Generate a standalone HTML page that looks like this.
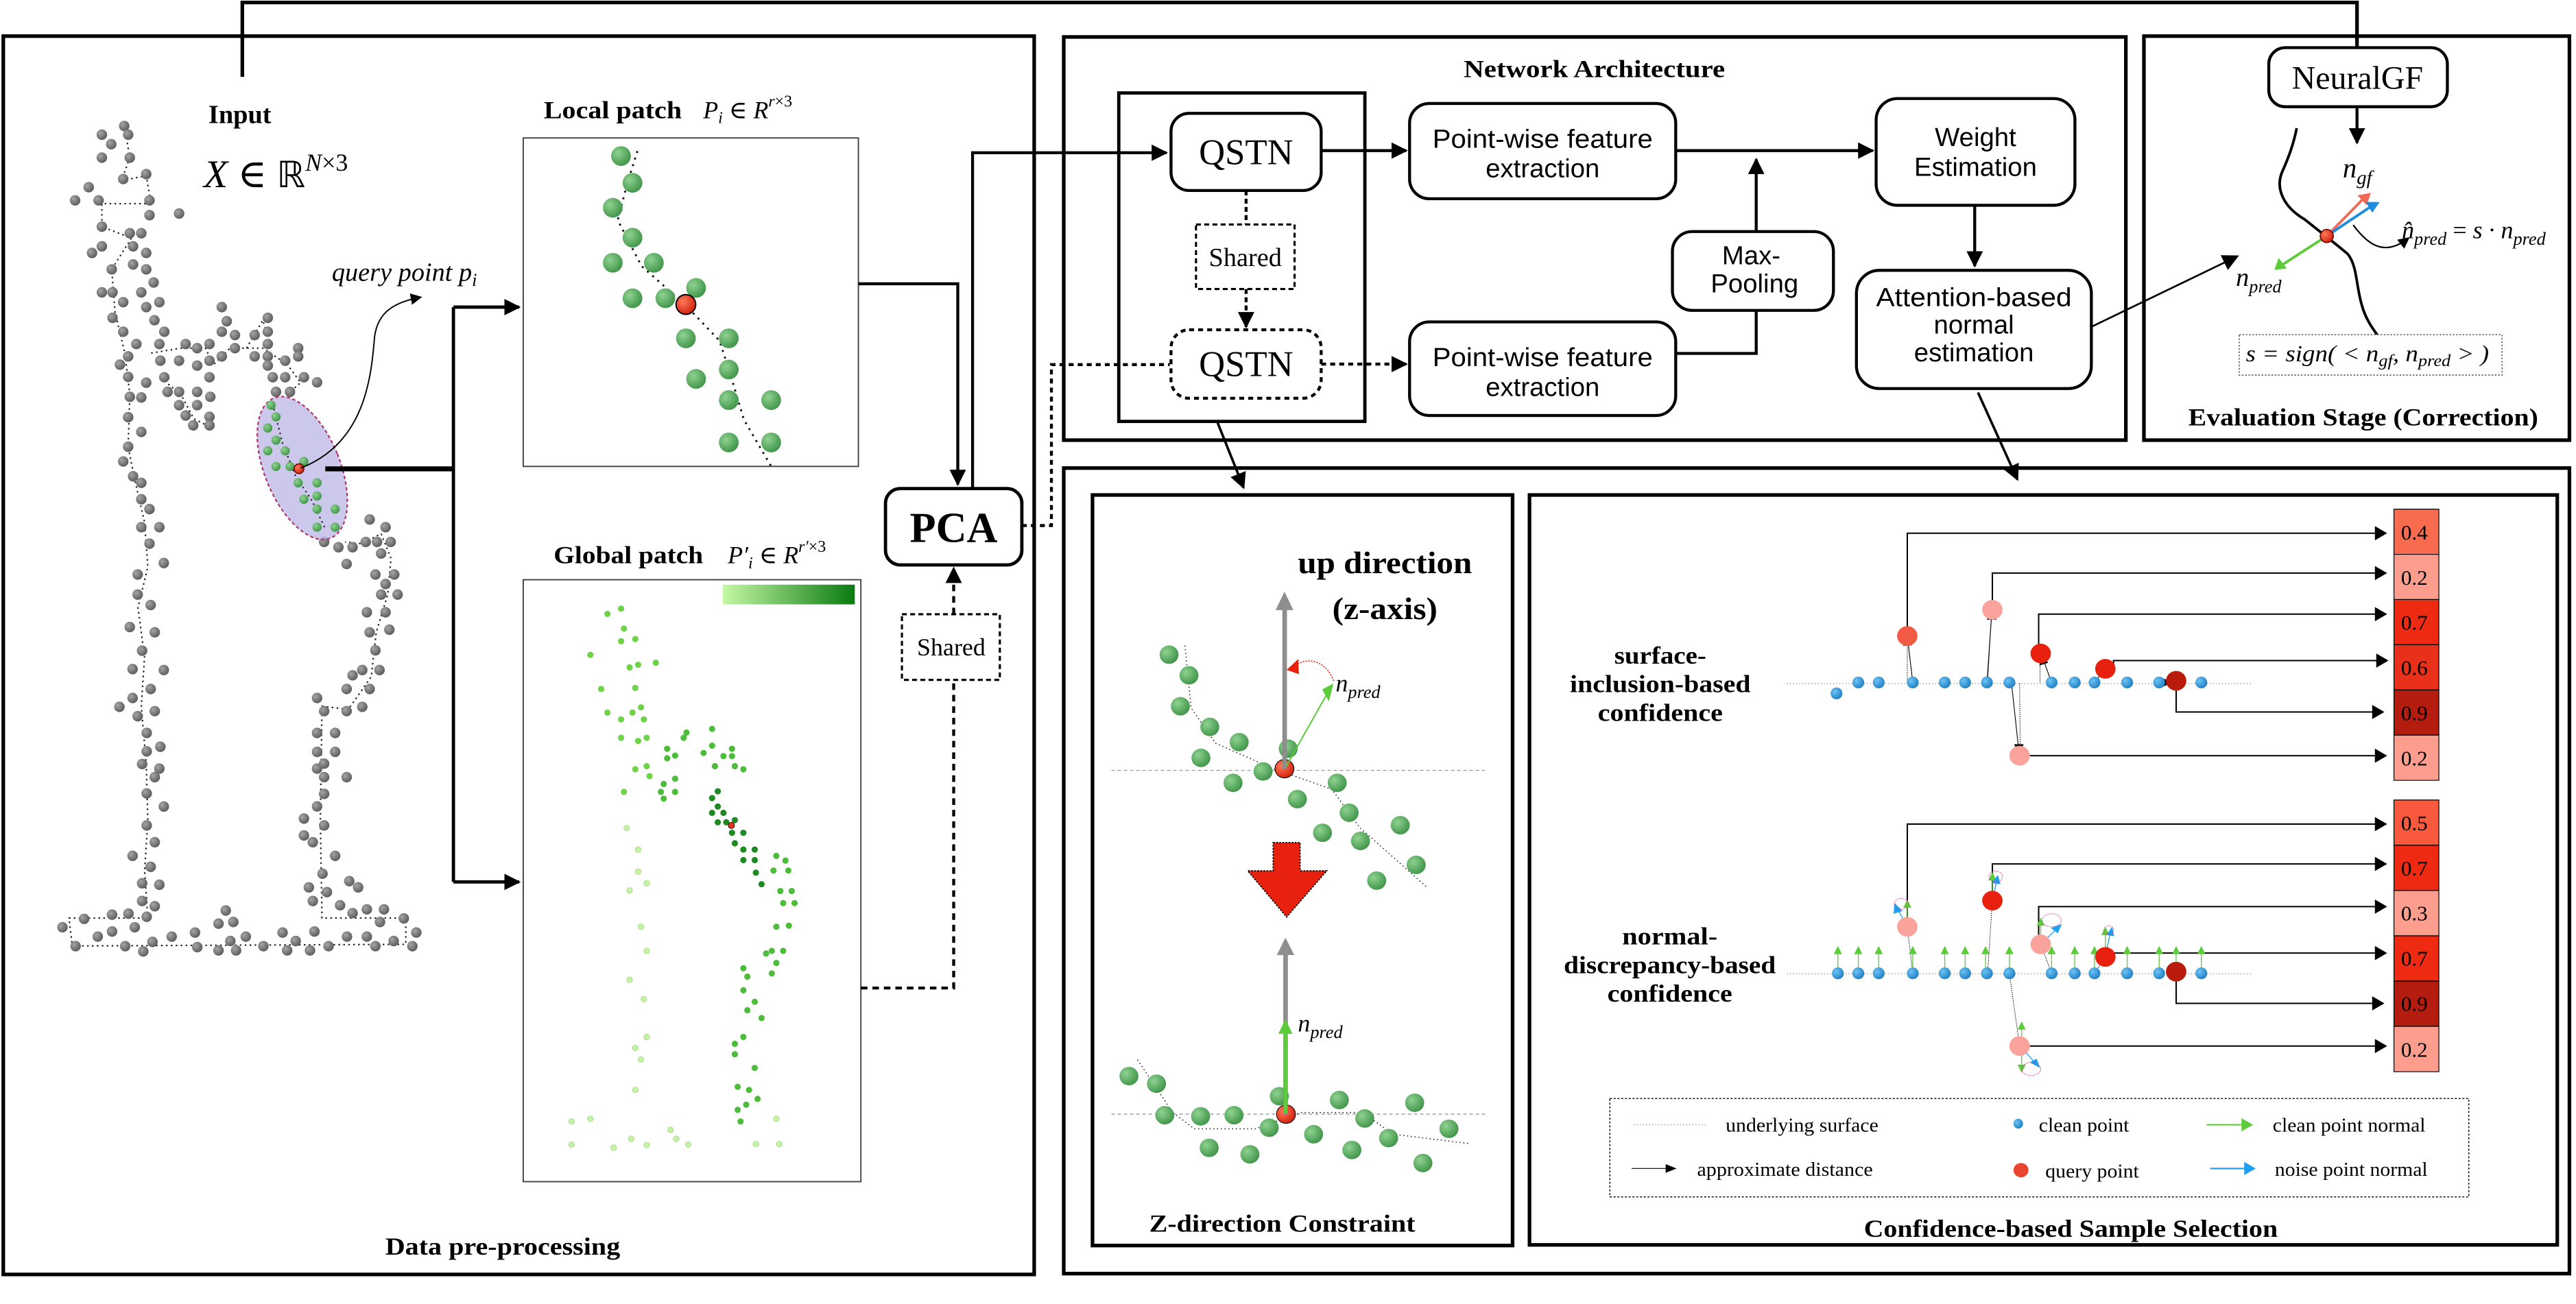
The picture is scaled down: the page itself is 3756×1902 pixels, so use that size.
<!DOCTYPE html>
<html><head><meta charset="utf-8"><style>
html,body{margin:0;padding:0;background:#fff;}
svg{display:block;}
text{font-family:"Liberation Serif","DejaVu Serif",serif;}
.ss, .ss text{font-family:"Liberation Sans",Arial,sans-serif;}
.dj, .dj text{font-family:"Liberation Serif","DejaVu Serif",serif;}
</style></head><body>
<svg xmlns="http://www.w3.org/2000/svg" width="3756" height="1902" viewBox="0 0 1568 794" preserveAspectRatio="none">
<defs>
<radialGradient id="gg" cx="35%" cy="35%" r="70%"><stop offset="0" stop-color="#a5a5a5"/><stop offset="1" stop-color="#5a5a5a"/></radialGradient>
<radialGradient id="gr" cx="35%" cy="35%" r="70%"><stop offset="0" stop-color="#8fd291"/><stop offset="1" stop-color="#3f9448"/></radialGradient>
<radialGradient id="rd" cx="35%" cy="35%" r="70%"><stop offset="0" stop-color="#ff7a5a"/><stop offset="1" stop-color="#d0200c"/></radialGradient>
<radialGradient id="bl" cx="35%" cy="35%" r="70%"><stop offset="0" stop-color="#6cc4f4"/><stop offset="1" stop-color="#1f7fc4"/></radialGradient>
<linearGradient id="gbar"><stop offset="0" stop-color="#c4f7a4"/><stop offset="1" stop-color="#0a7a10"/></linearGradient>
<marker id="ah" markerWidth="10" markerHeight="10" refX="9" refY="5" orient="auto" markerUnits="userSpaceOnUse"><path d="M0,0 L10,5 L0,10 z" fill="#000"/></marker>
<marker id="ahs" markerWidth="7" markerHeight="7" refX="6" refY="3.5" orient="auto" markerUnits="userSpaceOnUse"><path d="M0,0 L7,3.5 L0,7 z" fill="#000"/></marker>
</defs>
<rect width="1568" height="794" fill="#fff"/>

<!-- ================= frames ================= -->
<g fill="none" stroke="#000" stroke-width="2.2">
<rect x="2" y="22" width="627.5" height="754"/>
<rect x="647.5" y="22.5" width="646.5" height="245.5"/>
<rect x="1305" y="22" width="259" height="246"/>
<rect x="647.5" y="285" width="916.5" height="490.5"/>
<rect x="665" y="301.4" width="255.7" height="457"/>
<rect x="931" y="301.4" width="625.6" height="456.6"/>
<path d="M147.5,46.8 V1.5 H1434.7 V29"/>
</g>

<!-- ================= Data pre-processing ================= -->
<text x="146" y="75" font-size="16" font-weight="bold" text-anchor="middle">Input</text>
<text x="124" y="114" font-size="24"><tspan font-style="italic">X</tspan><tspan> ∈ </tspan><tspan font-family="DejaVu Sans" font-size="22">ℝ</tspan><tspan font-style="italic" font-size="15" dy="-10">N</tspan><tspan font-size="15">×3</tspan></text>
<text x="331" y="72" font-size="15" font-weight="bold" textLength="84" lengthAdjust="spacingAndGlyphs">Local patch</text>
<text x="428" y="72" font-size="15"><tspan font-style="italic">P</tspan><tspan font-style="italic" font-size="10" dy="3">i</tspan><tspan dy="-3"> ∈ </tspan><tspan font-style="italic">R</tspan><tspan font-size="10" dy="-7" font-style="italic">r</tspan><tspan font-size="10">×3</tspan></text>
<text x="337" y="343" font-size="15" font-weight="bold" textLength="91" lengthAdjust="spacingAndGlyphs">Global patch</text>
<text x="443" y="343" font-size="15"><tspan font-style="italic">P′</tspan><tspan font-style="italic" font-size="10" dy="3">i</tspan><tspan dy="-3"> ∈ </tspan><tspan font-style="italic">R</tspan><tspan font-size="10" dy="-7" font-style="italic">r′</tspan><tspan font-size="10">×3</tspan></text>
<text x="306" y="764" font-size="15" font-weight="bold" text-anchor="middle" textLength="143" lengthAdjust="spacingAndGlyphs">Data pre-processing</text>
<text x="202" y="171" font-size="16" font-style="italic">query point p<tspan font-size="11" dy="3">i</tspan></text>

<!-- point cloud outline -->
<g fill="none" stroke="#222" stroke-width="0.9" stroke-dasharray="1 2">
<path d="M76,78 L79,96 L74,110 L89,107 L92,124 L62,124 L62,138 L80,145 L68,164 L70,190 L76,215 L79,240 L78,272 L82,292 L88,318 L90,345 L84,370 L88,400 L86,430 L89,465 L90,500 L88,530 L90,559 L42,559 L44,576 L247,575 L247,559 L196,559 L195,500 L196,430 L212,432 L226,412 L229,385 L236,362 L238,340 L232,325 L220,331 L210,330"/>
<path d="M92,215 L110,212 L125,212 L130,222 L140,212 L160,212 L175,222 L183,233 L175,240"/>
<path d="M100,232 L110,240 L118,255 L128,260"/>
<path d="M150,212 L160,195 L163,205"/>
</g>
<g fill="url(#gg)">
<circle cx="75.6" cy="76.7" r="3.2"/><circle cx="62" cy="82" r="3.2"/><circle cx="78" cy="82" r="3.2"/><circle cx="67.7" cy="87.8" r="3.2"/><circle cx="79" cy="96" r="3.2"/><circle cx="62" cy="96" r="3.2"/><circle cx="75" cy="109" r="3.2"/><circle cx="89" cy="106" r="3.2"/><circle cx="54" cy="114" r="3.2"/><circle cx="45.7" cy="122" r="3.2"/><circle cx="60" cy="122" r="3.2"/><circle cx="91" cy="122" r="3.2"/><circle cx="109" cy="130" r="3.2"/><circle cx="91" cy="131" r="3.2"/><circle cx="62" cy="138" r="3.2"/><circle cx="79" cy="142" r="3.2"/><circle cx="86" cy="142" r="3.2"/><circle cx="56" cy="154" r="3.2"/><circle cx="62" cy="150" r="3.2"/><circle cx="81" cy="150" r="3.2"/><circle cx="89" cy="154" r="3.2"/><circle cx="68" cy="164" r="3.2"/><circle cx="81" cy="161" r="3.2"/><circle cx="89" cy="164" r="3.2"/><circle cx="93.5" cy="172" r="3.2"/><circle cx="62" cy="178" r="3.2"/><circle cx="68.5" cy="178" r="3.2"/><circle cx="75" cy="184" r="3.2"/><circle cx="86" cy="178" r="3.2"/><circle cx="97" cy="184" r="3.2"/><circle cx="89" cy="187" r="3.2"/><circle cx="68.5" cy="193.5" r="3.2"/><circle cx="94" cy="195" r="3.2"/><circle cx="75" cy="202" r="3.2"/><circle cx="100" cy="202" r="3.2"/><circle cx="83" cy="209.5" r="3.2"/><circle cx="97" cy="209.5" r="3.2"/><circle cx="78" cy="217" r="3.2"/><circle cx="73" cy="222" r="3.2"/><circle cx="97.6" cy="219.6" r="3.2"/><circle cx="78" cy="229.5" r="3.2"/><circle cx="89" cy="233" r="3.2"/><circle cx="79" cy="241.6" r="3.2"/><circle cx="86" cy="242" r="3.2"/><circle cx="78" cy="254" r="3.2"/><circle cx="86" cy="263" r="3.2"/><circle cx="78" cy="272" r="3.2"/><circle cx="75" cy="281" r="3.2"/><circle cx="81" cy="290" r="3.2"/><circle cx="86" cy="294" r="3.2"/><circle cx="86" cy="304" r="3.2"/><circle cx="91" cy="310" r="3.2"/><circle cx="86" cy="321" r="3.2"/><circle cx="97" cy="321" r="3.2"/><circle cx="91" cy="331" r="3.2"/><circle cx="99.7" cy="342.8" r="3.2"/><circle cx="83.8" cy="349.8" r="3.2"/><circle cx="83.8" cy="362" r="3.2"/><circle cx="91.7" cy="368.4" r="3.2"/><circle cx="79" cy="381.8" r="3.2"/><circle cx="94.2" cy="385" r="3.2"/><circle cx="86.5" cy="396.2" r="3.2"/><circle cx="80.7" cy="407.4" r="3.2"/><circle cx="99.7" cy="408" r="3.2"/><circle cx="91.7" cy="419.5" r="3.2"/><circle cx="80.7" cy="425" r="3.2"/><circle cx="72.7" cy="430.4" r="3.2"/><circle cx="83.8" cy="436.1" r="3.2"/><circle cx="94.2" cy="433" r="3.2"/><circle cx="89.3" cy="446.3" r="3.2"/><circle cx="89.3" cy="457.5" r="3.2"/><circle cx="97.6" cy="454.7" r="3.2"/><circle cx="86.5" cy="465.2" r="3.2"/><circle cx="97" cy="468" r="3.2"/><circle cx="94.2" cy="473.2" r="3.2"/><circle cx="89.3" cy="483.1" r="3.2"/><circle cx="99.7" cy="491.1" r="3.2"/><circle cx="89.3" cy="502.6" r="3.2"/><circle cx="94.2" cy="512.8" r="3.2"/><circle cx="80.7" cy="521.1" r="3.2"/><circle cx="91.7" cy="527.8" r="3.2"/><circle cx="86.5" cy="537.8" r="3.2"/><circle cx="97" cy="538.7" r="3.2"/><circle cx="86.5" cy="548.6" r="3.2"/><circle cx="94.2" cy="551.8" r="3.2"/><circle cx="89.3" cy="558.2" r="3.2"/><circle cx="78.2" cy="556.3" r="3.2"/><circle cx="68.2" cy="556.9" r="3.2"/><circle cx="51.2" cy="559.5" r="3.2"/><circle cx="38" cy="564.6" r="3.2"/><circle cx="59.5" cy="570.3" r="3.2"/><circle cx="68.2" cy="567.2" r="3.2"/><circle cx="82" cy="564.6" r="3.2"/><circle cx="46" cy="576.1" r="3.2"/><circle cx="76.2" cy="576.1" r="3.2"/><circle cx="87.2" cy="579.3" r="3.2"/><circle cx="92.8" cy="573.5" r="3.2"/><circle cx="104.5" cy="570.3" r="3.2"/><circle cx="118.7" cy="567.8" r="3.2"/><circle cx="120.1" cy="576.7" r="3.2"/><circle cx="133" cy="562.4" r="3.2"/><circle cx="137.4" cy="554.4" r="3.2"/><circle cx="142" cy="561.4" r="3.2"/><circle cx="140.2" cy="573" r="3.2"/><circle cx="133" cy="578.7" r="3.2"/><circle cx="143.7" cy="578.7" r="3.2"/><circle cx="149.6" cy="570.3" r="3.2"/><circle cx="160.3" cy="576.1" r="3.2"/><circle cx="172" cy="567.8" r="3.2"/><circle cx="174.8" cy="578.7" r="3.2"/><circle cx="180" cy="573" r="3.2"/><circle cx="188.7" cy="578.7" r="3.2"/><circle cx="191.4" cy="567.2" r="3.2"/><circle cx="200" cy="576.1" r="3.2"/><circle cx="211.2" cy="570.3" r="3.2"/><circle cx="223.3" cy="570.3" r="3.2"/><circle cx="228.5" cy="576.1" r="3.2"/><circle cx="239.6" cy="573" r="3.2"/><circle cx="251" cy="576.1" r="3.2"/><circle cx="253.4" cy="567.8" r="3.2"/><circle cx="231.3" cy="561.4" r="3.2"/><circle cx="245.8" cy="559.2" r="3.2"/><circle cx="233.7" cy="553.7" r="3.2"/><circle cx="223.3" cy="553.7" r="3.2"/><circle cx="214.6" cy="556" r="3.2"/><circle cx="207" cy="551.2" r="3.2"/><circle cx="190.4" cy="548.6" r="3.2"/><circle cx="199" cy="543.2" r="3.2"/><circle cx="188" cy="540.3" r="3.2"/><circle cx="212.6" cy="536.5" r="3.2"/><circle cx="218" cy="540.3" r="3.2"/><circle cx="196.3" cy="532" r="3.2"/><circle cx="204" cy="521.1" r="3.2"/><circle cx="190.4" cy="512.8" r="3.2"/><circle cx="185" cy="508.7" r="3.2"/><circle cx="197.3" cy="502.6" r="3.2"/><circle cx="185" cy="498.4" r="3.2"/><circle cx="193" cy="491" r="3.2"/><circle cx="197.3" cy="483.4" r="3.2"/><circle cx="197.3" cy="473.2" r="3.2"/><circle cx="211" cy="473.2" r="3.2"/><circle cx="193" cy="468" r="3.2"/><circle cx="197.3" cy="465" r="3.2"/><circle cx="193" cy="457.8" r="3.2"/><circle cx="204" cy="457.8" r="3.2"/><circle cx="193" cy="446.3" r="3.2"/><circle cx="204" cy="446.3" r="3.2"/><circle cx="197.3" cy="433" r="3.2"/><circle cx="211" cy="433" r="3.2"/><circle cx="220.5" cy="430.4" r="3.2"/><circle cx="193" cy="425" r="3.2"/><circle cx="211" cy="419.5" r="3.2"/><circle cx="225" cy="419.5" r="3.2"/><circle cx="214.6" cy="411.2" r="3.2"/><circle cx="220.5" cy="408" r="3.2"/><circle cx="231" cy="408" r="3.2"/><circle cx="228.5" cy="396" r="3.2"/><circle cx="225" cy="385" r="3.2"/><circle cx="237" cy="383.4" r="3.2"/><circle cx="223.3" cy="372.8" r="3.2"/><circle cx="234.7" cy="372.8" r="3.2"/><circle cx="232" cy="362" r="3.2"/><circle cx="242" cy="362" r="3.2"/><circle cx="234.7" cy="355.6" r="3.2"/><circle cx="228.5" cy="349.8" r="3.2"/><circle cx="240" cy="349.8" r="3.2"/><circle cx="211" cy="343.4" r="3.2"/><circle cx="232" cy="337" r="3.2"/><circle cx="197.3" cy="330" r="3.2"/><circle cx="206" cy="333.2" r="3.2"/><circle cx="214.6" cy="333.2" r="3.2"/><circle cx="222.6" cy="330" r="3.2"/><circle cx="229.5" cy="330" r="3.2"/><circle cx="237.8" cy="330" r="3.2"/><circle cx="225" cy="316.3" r="3.2"/><circle cx="234.7" cy="321" r="3.2"/>
<circle cx="135" cy="187" r="3.2"/><circle cx="138" cy="195.6" r="3.2"/><circle cx="135" cy="202" r="3.2"/><circle cx="143" cy="204" r="3.2"/><circle cx="163" cy="193.5" r="3.2"/><circle cx="163" cy="202" r="3.2"/><circle cx="155" cy="204" r="3.2"/><circle cx="163" cy="209.5" r="3.2"/><circle cx="113" cy="209.5" r="3.2"/><circle cx="120" cy="212" r="3.2"/><circle cx="127.5" cy="209.5" r="3.2"/><circle cx="143" cy="212" r="3.2"/><circle cx="135" cy="217" r="3.2"/><circle cx="127.5" cy="219.6" r="3.2"/><circle cx="109" cy="219.6" r="3.2"/><circle cx="120" cy="222.6" r="3.2"/><circle cx="155" cy="217" r="3.2"/><circle cx="163" cy="217" r="3.2"/><circle cx="181.5" cy="212" r="3.2"/><circle cx="181.5" cy="217" r="3.2"/><circle cx="173.6" cy="219.6" r="3.2"/><circle cx="163" cy="222.6" r="3.2"/><circle cx="100" cy="229.7" r="3.2"/><circle cx="127.5" cy="229.7" r="3.2"/><circle cx="166" cy="229.7" r="3.2"/><circle cx="173.6" cy="229.7" r="3.2"/><circle cx="185" cy="229.7" r="3.2"/><circle cx="193" cy="232.8" r="3.2"/><circle cx="102" cy="238.6" r="3.2"/><circle cx="109" cy="238.6" r="3.2"/><circle cx="120" cy="238.6" r="3.2"/><circle cx="168" cy="238.6" r="3.2"/><circle cx="176.5" cy="238.6" r="3.2"/><circle cx="128" cy="241.6" r="3.2"/><circle cx="109" cy="246.7" r="3.2"/><circle cx="120" cy="246.7" r="3.2"/><circle cx="113" cy="253" r="3.2"/><circle cx="127.5" cy="253.8" r="3.2"/><circle cx="117.6" cy="259" r="3.2"/><circle cx="127.5" cy="259" r="3.2"/>
</g>
<!-- query ellipse -->
<ellipse cx="184" cy="285" rx="23" ry="46" transform="rotate(-22 184 285)" fill="#b9b5e6" fill-opacity="0.75" stroke="#b0306a" stroke-width="0.9" stroke-dasharray="2 1.5"/>
<path d="M166,246 L172,270 L180,290 L190,305 L198,322" fill="none" stroke="#222" stroke-width="0.9" stroke-dasharray="1 2"/>
<g fill="url(#gr)">
<circle cx="165" cy="246.7" r="2.8"/><circle cx="168" cy="253.8" r="2.8"/><circle cx="163" cy="260.6" r="2.8"/><circle cx="168" cy="268" r="2.8"/><circle cx="163" cy="274.5" r="2.8"/><circle cx="173.6" cy="274.5" r="2.8"/><circle cx="185" cy="281" r="2.8"/><circle cx="168" cy="284" r="2.8"/><circle cx="176.5" cy="284" r="2.8"/><circle cx="181.5" cy="294" r="2.8"/><circle cx="193" cy="294" r="2.8"/><circle cx="193" cy="302" r="2.8"/><circle cx="185" cy="304" r="2.8"/><circle cx="193" cy="310" r="2.8"/><circle cx="204" cy="310" r="2.8"/><circle cx="193" cy="321" r="2.8"/><circle cx="204" cy="321" r="2.8"/>
</g>
<circle cx="182" cy="285.4" r="3" fill="url(#rd)" stroke="#600" stroke-width="0.6"/>
<path d="M183,285 C222,270 226,230 228,205 C230,190 240,184 256,181" fill="none" stroke="#000" stroke-width="0.8" marker-end="url(#ahs)"/>
<!-- patch arrows -->
<g fill="none" stroke="#000" stroke-width="2">
<path d="M198,285.5 H276.5" stroke-width="3"/>
<path d="M276,187 V537"/>
<path d="M276,187 H316" marker-end="url(#ah)"/>
<path d="M276,537 H316" marker-end="url(#ah)"/>
</g>

<!-- local patch -->
<rect x="318.5" y="84" width="204" height="200" fill="#fff" stroke="#444" stroke-width="0.8"/>
<path d="M388,92 L382,111 L376,134 L390.5,162 L417.5,186 L438,207.5 L444.5,227.7 L452.8,255.5 L469.4,284" fill="none" stroke="#111" stroke-width="1.2" stroke-dasharray="1.2 3"/>
<g fill="url(#gr)">
<circle cx="378" cy="95" r="6"/><circle cx="385" cy="111.3" r="6"/><circle cx="373" cy="126.5" r="6"/><circle cx="385" cy="144.7" r="6"/><circle cx="373" cy="160" r="6"/><circle cx="398" cy="160" r="6"/><circle cx="423.7" cy="175.3" r="6"/><circle cx="385" cy="181.6" r="6"/><circle cx="405" cy="181.6" r="6"/><circle cx="417.5" cy="206" r="6"/><circle cx="443.6" cy="206" r="6"/><circle cx="443.6" cy="225" r="6"/><circle cx="423.7" cy="230.7" r="6"/><circle cx="443.6" cy="243.6" r="6"/><circle cx="469.4" cy="243.6" r="6"/><circle cx="443.6" cy="269.4" r="6"/><circle cx="469.4" cy="269.4" r="6"/>
</g>
<circle cx="417.5" cy="185.4" r="6" fill="url(#rd)" stroke="#000" stroke-width="0.8"/>

<!-- global patch -->
<rect x="318.5" y="353" width="205.5" height="366.5" fill="#fff" stroke="#444" stroke-width="0.8"/>
<rect x="440" y="356" width="80.3" height="12" fill="url(#gbar)"/>
<g transform="matrix(0.3462,0,0,0.3196,0,292.3)">
<g fill="#6fd348">
<ellipse cx="1068" cy="255" rx="5.5" ry="6"/><ellipse cx="1092" cy="245" rx="5.5" ry="6"/><ellipse cx="1097" cy="283" rx="5.5" ry="6"/><ellipse cx="1092" cy="307" rx="5.5" ry="6"/><ellipse cx="1117" cy="303" rx="5.5" ry="6"/><ellipse cx="1038" cy="333" rx="5.5" ry="6"/><ellipse cx="1107" cy="357" rx="5.5" ry="6"/><ellipse cx="1122" cy="352" rx="5.5" ry="6"/><ellipse cx="1153" cy="348" rx="5.5" ry="6"/><ellipse cx="1057" cy="398" rx="5.5" ry="6"/><ellipse cx="1117" cy="396" rx="5.5" ry="6"/><ellipse cx="1068" cy="443" rx="5.5" ry="6"/><ellipse cx="1092" cy="456" rx="5.5" ry="6"/><ellipse cx="1112" cy="443" rx="5.5" ry="6"/><ellipse cx="1127" cy="433" rx="5.5" ry="6"/><ellipse cx="1132" cy="456" rx="5.5" ry="6"/><ellipse cx="1092" cy="491" rx="5.5" ry="6"/><ellipse cx="1122" cy="497" rx="5.5" ry="6"/><ellipse cx="1137" cy="491" rx="5.5" ry="6"/><ellipse cx="1117" cy="551" rx="5.5" ry="6"/><ellipse cx="1137" cy="545" rx="5.5" ry="6"/><ellipse cx="1142" cy="564" rx="5.5" ry="6"/><ellipse cx="1097" cy="594" rx="5.5" ry="6"/>
</g>
<g fill="#4cbc3a">
<ellipse cx="1173" cy="512" rx="5.5" ry="6"/><ellipse cx="1173" cy="530" rx="5.5" ry="6"/><ellipse cx="1187" cy="525" rx="5.5" ry="6"/><ellipse cx="1207" cy="481" rx="5.5" ry="6"/><ellipse cx="1202" cy="491" rx="5.5" ry="6"/><ellipse cx="1167" cy="579" rx="5.5" ry="6"/><ellipse cx="1187" cy="569" rx="5.5" ry="6"/><ellipse cx="1162" cy="594" rx="5.5" ry="6"/><ellipse cx="1187" cy="594" rx="5.5" ry="6"/><ellipse cx="1167" cy="607" rx="5.5" ry="6"/><ellipse cx="1252" cy="474" rx="5.5" ry="6"/><ellipse cx="1252" cy="506" rx="5.5" ry="6"/><ellipse cx="1237" cy="520" rx="5.5" ry="6"/><ellipse cx="1257" cy="545" rx="5.5" ry="6"/><ellipse cx="1272" cy="526" rx="5.5" ry="6"/><ellipse cx="1287" cy="512" rx="5.5" ry="6"/><ellipse cx="1287" cy="526" rx="5.5" ry="6"/><ellipse cx="1292" cy="545" rx="5.5" ry="6"/><ellipse cx="1307" cy="551" rx="5.5" ry="6"/>
<ellipse cx="1365" cy="716" rx="5.5" ry="6"/><ellipse cx="1381" cy="725" rx="5.5" ry="6"/><ellipse cx="1360" cy="744" rx="5.5" ry="6"/><ellipse cx="1386" cy="744" rx="5.5" ry="6"/><ellipse cx="1372" cy="783" rx="5.5" ry="6"/><ellipse cx="1392" cy="783" rx="5.5" ry="6"/><ellipse cx="1377" cy="806" rx="5.5" ry="6"/><ellipse cx="1397" cy="806" rx="5.5" ry="6"/><ellipse cx="1365" cy="851" rx="5.5" ry="6"/><ellipse cx="1387" cy="849" rx="5.5" ry="6"/><ellipse cx="1347" cy="902" rx="5.5" ry="6"/><ellipse cx="1357" cy="897" rx="5.5" ry="6"/><ellipse cx="1377" cy="897" rx="5.5" ry="6"/><ellipse cx="1365" cy="920" rx="5.5" ry="6"/><ellipse cx="1357" cy="940" rx="5.5" ry="6"/><ellipse cx="1307" cy="930" rx="5.5" ry="6"/><ellipse cx="1314" cy="946" rx="5.5" ry="6"/><ellipse cx="1307" cy="972" rx="5.5" ry="6"/><ellipse cx="1327" cy="994" rx="5.5" ry="6"/><ellipse cx="1314" cy="1010" rx="5.5" ry="6"/><ellipse cx="1339" cy="1025" rx="5.5" ry="6"/><ellipse cx="1307" cy="1061" rx="5.5" ry="6"/><ellipse cx="1292" cy="1074" rx="5.5" ry="6"/><ellipse cx="1292" cy="1094" rx="5.5" ry="6"/><ellipse cx="1327" cy="1120" rx="5.5" ry="6"/><ellipse cx="1297" cy="1156" rx="5.5" ry="6"/><ellipse cx="1317" cy="1162" rx="5.5" ry="6"/><ellipse cx="1332" cy="1179" rx="5.5" ry="6"/><ellipse cx="1312" cy="1190" rx="5.5" ry="6"/><ellipse cx="1297" cy="1200" rx="5.5" ry="6"/><ellipse cx="1302" cy="1222" rx="5.5" ry="6"/>
</g>
<g fill="#1f8a24">
<ellipse cx="1252" cy="606" rx="5.5" ry="6"/><ellipse cx="1262" cy="593" rx="5.5" ry="6"/><ellipse cx="1262" cy="622" rx="5.5" ry="6"/><ellipse cx="1252" cy="634" rx="5.5" ry="6"/><ellipse cx="1272" cy="634" rx="5.5" ry="6"/><ellipse cx="1262" cy="652" rx="5.5" ry="6"/><ellipse cx="1277" cy="652" rx="5.5" ry="6"/><ellipse cx="1292" cy="648" rx="5.5" ry="6"/><ellipse cx="1287" cy="672" rx="5.5" ry="6"/><ellipse cx="1307" cy="672" rx="5.5" ry="6"/><ellipse cx="1292" cy="692" rx="5.5" ry="6"/><ellipse cx="1307" cy="704" rx="5.5" ry="6"/><ellipse cx="1327" cy="704" rx="5.5" ry="6"/><ellipse cx="1307" cy="724" rx="5.5" ry="6"/><ellipse cx="1327" cy="724" rx="5.5" ry="6"/><ellipse cx="1329" cy="748" rx="5.5" ry="6"/><ellipse cx="1339" cy="770" rx="5.5" ry="6"/>
</g>
<g fill="#c6f2a8" stroke="#9fd980" stroke-width="1">
<ellipse cx="1102" cy="663" rx="5" ry="5.5"/><ellipse cx="1122" cy="704" rx="5" ry="5.5"/><ellipse cx="1122" cy="746" rx="5" ry="5.5"/><ellipse cx="1137" cy="768" rx="5" ry="5.5"/><ellipse cx="1107" cy="782" rx="5" ry="5.5"/><ellipse cx="1127" cy="851" rx="5" ry="5.5"/><ellipse cx="1137" cy="897" rx="5" ry="5.5"/><ellipse cx="1107" cy="952" rx="5" ry="5.5"/><ellipse cx="1132" cy="989" rx="5" ry="5.5"/><ellipse cx="1137" cy="1061" rx="5" ry="5.5"/><ellipse cx="1117" cy="1082" rx="5" ry="5.5"/><ellipse cx="1127" cy="1104" rx="5" ry="5.5"/><ellipse cx="1117" cy="1162" rx="5" ry="5.5"/><ellipse cx="1005" cy="1222" rx="5" ry="5.5"/><ellipse cx="1038" cy="1217" rx="5" ry="5.5"/><ellipse cx="1005" cy="1266" rx="5" ry="5.5"/><ellipse cx="1079" cy="1272" rx="5" ry="5.5"/><ellipse cx="1110" cy="1255" rx="5" ry="5.5"/><ellipse cx="1137" cy="1267" rx="5" ry="5.5"/><ellipse cx="1179" cy="1238" rx="5" ry="5.5"/><ellipse cx="1189" cy="1255" rx="5" ry="5.5"/><ellipse cx="1210" cy="1266" rx="5" ry="5.5"/><ellipse cx="1365" cy="1217" rx="5" ry="5.5"/><ellipse cx="1329" cy="1265" rx="5" ry="5.5"/><ellipse cx="1370" cy="1265" rx="5" ry="5.5"/>
</g>
<ellipse cx="1286" cy="658" rx="5.5" ry="6" fill="#e8301c" stroke="#000" stroke-width="1"/>
</g>

<!-- PCA + connectors -->
<rect x="539" y="297.5" width="83" height="46.5" rx="9" fill="#fff" stroke="#000" stroke-width="2"/>
<text x="580.5" y="330" font-size="26" font-weight="bold" text-anchor="middle">PCA</text>
<rect x="549" y="374" width="59.6" height="40" fill="#fff" stroke="#000" stroke-width="1.3" stroke-dasharray="3 2"/>
<text x="579" y="399" font-size="15" text-anchor="middle">Shared</text>
<g fill="none" stroke="#000" stroke-width="1.8">
<path d="M522.5,172.8 H583 V295" marker-end="url(#ah)"/>
<path d="M592,297.5 V93 H710" marker-end="url(#ah)"/>
<path d="M580.5,374 V346" stroke-dasharray="4 3" marker-end="url(#ah)"/>
<path d="M524,601.6 H580.5 V414" stroke-dasharray="4 3"/>
<path d="M622,320 H640 V222 H712" stroke-dasharray="3 2.5"/>
</g>

<!-- ================= Network Architecture ================= -->
<text x="970.5" y="47" font-size="15" font-weight="bold" text-anchor="middle" textLength="159" lengthAdjust="spacingAndGlyphs">Network  Architecture</text>
<rect x="681" y="56.6" width="149.8" height="200" fill="none" stroke="#000" stroke-width="2"/>
<rect x="712.8" y="69" width="91.4" height="47" rx="11" fill="#fff" stroke="#000" stroke-width="1.8"/>
<text x="758.5" y="100" font-size="22" text-anchor="middle">QSTN</text>
<rect x="728" y="136.7" width="60" height="39.3" fill="#fff" stroke="#000" stroke-width="1.3" stroke-dasharray="3 2"/>
<text x="758" y="162" font-size="16" text-anchor="middle">Shared</text>
<rect x="712.8" y="200.8" width="91.4" height="41.7" rx="11" fill="#fff" stroke="#000" stroke-width="1.8" stroke-dasharray="3 2.5"/>
<text x="758.5" y="229" font-size="22" text-anchor="middle">QSTN</text>
<g fill="#fff" stroke="#000" stroke-width="1.8">
<rect x="858" y="63" width="162" height="58" rx="12"/>
<rect x="858" y="196" width="162" height="57" rx="12"/>
<rect x="1018" y="141" width="98" height="48" rx="12"/>
<rect x="1142" y="60" width="121" height="65" rx="13"/>
<rect x="1130" y="164.6" width="143" height="72" rx="14"/>
</g>
<g font-size="16" text-anchor="middle">
<text class="ss" x="939" y="90" textLength="134" lengthAdjust="spacingAndGlyphs">Point-wise feature</text>
<text class="ss" x="939" y="108">extraction</text>
<text class="ss" x="939" y="223" textLength="134" lengthAdjust="spacingAndGlyphs">Point-wise feature</text>
<text class="ss" x="939" y="241">extraction</text>
<text class="ss" x="1066" y="161">Max-</text>
<text class="ss" x="1068" y="178">Pooling</text>
<text class="ss" x="1202.5" y="89">Weight</text>
<text class="ss" x="1202.5" y="107">Estimation</text>
<text class="ss" x="1201.5" y="186.5" textLength="119" lengthAdjust="spacingAndGlyphs">Attention-based</text>
<text class="ss" x="1201.5" y="203">normal</text>
<text class="ss" x="1201.5" y="220">estimation</text>
</g>
<g fill="none" stroke="#000" stroke-width="1.8">
<path d="M804.2,91.7 H856" marker-end="url(#ah)"/>
<path d="M1020,91.7 H1140" marker-end="url(#ah)"/>
<path d="M1069,141 V97" marker-end="url(#ah)"/>
<path d="M1020,215.2 H1069 V189"/>
<path d="M1202,125 V162" marker-end="url(#ah)"/>
<path d="M758.5,116 V136.7" stroke-dasharray="3 2"/>
<path d="M758.5,176 V199" stroke-dasharray="3 2" marker-end="url(#ah)"/>
<path d="M804.2,221.7 H856" stroke-dasharray="3 2.5" marker-end="url(#ah)"/>
<path d="M741,257 L757,297" stroke-width="1.5" marker-end="url(#ah)"/>
<path d="M1204,239 L1228,292" stroke-width="1.5" marker-end="url(#ah)"/>
<path d="M1273,199 L1362,156" stroke-width="1.1" marker-end="url(#ah)"/>
</g>

<!-- ================= Evaluation ================= -->
<rect x="1381" y="29" width="108.7" height="36" rx="10" fill="#fff" stroke="#000" stroke-width="1.8"/>
<text x="1435" y="54" font-size="20" text-anchor="middle">NeuralGF</text>
<path d="M1434.7,65.9 V87" stroke="#000" stroke-width="1.8" marker-end="url(#ah)"/>
<path d="M1398,78 C1396,88 1393,96 1389,105 C1385,115 1390,126 1402.7,133.5 C1412,141 1420,147 1429,154.6 C1435,162 1434,174 1437.7,186 C1441,198 1448,204 1451.6,211" fill="none" stroke="#000" stroke-width="1.6"/>
<g stroke-width="1.6" fill="none">
<path d="M1416.3,143.7 L1440,119.5" stroke="#f26a55"/>
<path d="M1416.3,143.7 L1445,124.5" stroke="#1e8ce0"/>
<path d="M1416.3,143.7 L1388,162" stroke="#5ccc3a"/>
</g>
<path d="M1443.2,117.4 L1435,119 L1440.5,125 z" fill="#f26a55"/>
<path d="M1448.5,123 L1440,123 L1444,129.5 z" fill="#1e8ce0"/>
<path d="M1384.4,164.3 L1387,157 L1392,163.5 z" fill="#5ccc3a"/>
<circle cx="1416.3" cy="143.7" r="4" fill="url(#rd)" stroke="#600" stroke-width="0.6"/>
<path d="M1432.4,137 C1442,150 1452,156 1466,145" fill="none" stroke="#000" stroke-width="0.9" marker-end="url(#ahs)"/>
<text x="1426" y="108" font-size="17" font-style="italic">n<tspan font-size="12" dy="4">gf</tspan></text>
<text x="1462" y="145" font-size="15" font-style="italic">n̂<tspan font-size="11" dy="4">pred</tspan><tspan dy="-4" font-style="normal"> = </tspan>s · n<tspan font-size="11" dy="4">pred</tspan></text>
<text x="1361" y="174" font-size="16" font-style="italic">n<tspan font-size="11" dy="4">pred</tspan></text>
<rect x="1363" y="203.8" width="160" height="24.6" fill="#fff" stroke="#666" stroke-width="0.7" stroke-dasharray="1 1"/>
<text x="1367" y="220" font-size="14" font-style="italic" textLength="148" lengthAdjust="spacingAndGlyphs">s = sign( &lt; n<tspan font-size="10" dy="3">gf</tspan><tspan dy="-3">, n</tspan><tspan font-size="10" dy="3">pred</tspan><tspan dy="-3"> &gt; )</tspan></text>
<text x="1438.5" y="259" font-size="15" font-weight="bold" text-anchor="middle" textLength="213" lengthAdjust="spacingAndGlyphs">Evaluation Stage (Correction)</text>

<!-- ================= Z-direction panel ================= -->
<g transform="matrix(0.1864,0,0,0.3307,643,275.6)">
<g stroke="#999" stroke-width="1.3" stroke-dasharray="5 4" fill="none">
<line x1="180" y1="585" x2="1400" y2="585" vector-effect="non-scaling-stroke"/>
<line x1="180" y1="1218" x2="1400" y2="1218" vector-effect="non-scaling-stroke"/>
</g>
<g fill="none" stroke="#111" stroke-width="1.5" stroke-dasharray="1.5 4">
<path d="M420,355 L440,470 L520,535 L700,580 L900,620 L990,690 L1210,800" vector-effect="non-scaling-stroke"/>
<path d="M265,1118 L380,1215 L450,1245 L650,1245 L800,1215 L1000,1215 L1100,1255 L1345,1272" vector-effect="non-scaling-stroke"/>
</g>
<g fill="url(#gr)">
<ellipse cx="368" cy="372" rx="31" ry="17"/><ellipse cx="433" cy="410" rx="31" ry="17"/><ellipse cx="405" cy="467" rx="31" ry="17"/><ellipse cx="501" cy="505" rx="31" ry="17"/><ellipse cx="597" cy="533" rx="31" ry="17"/><ellipse cx="472" cy="562" rx="31" ry="17"/><ellipse cx="577" cy="608" rx="31" ry="17"/><ellipse cx="675" cy="587" rx="31" ry="17"/><ellipse cx="757" cy="545" rx="31" ry="17"/><ellipse cx="787" cy="638" rx="31" ry="17"/><ellipse cx="917" cy="608" rx="31" ry="17"/><ellipse cx="956" cy="663" rx="31" ry="17"/><ellipse cx="869" cy="700" rx="31" ry="17"/><ellipse cx="993" cy="715" rx="31" ry="17"/><ellipse cx="1123" cy="686" rx="31" ry="17"/><ellipse cx="1175" cy="759" rx="31" ry="17"/><ellipse cx="1046" cy="788" rx="31" ry="17"/>
<ellipse cx="237" cy="1148" rx="31" ry="17"/><ellipse cx="327" cy="1162" rx="31" ry="17"/><ellipse cx="354" cy="1220" rx="31" ry="17"/><ellipse cx="471" cy="1222" rx="31" ry="17"/><ellipse cx="580" cy="1220" rx="31" ry="17"/><ellipse cx="695" cy="1243" rx="31" ry="17"/><ellipse cx="728" cy="1185" rx="31" ry="17"/><ellipse cx="499" cy="1280" rx="31" ry="17"/><ellipse cx="632" cy="1292" rx="31" ry="17"/><ellipse cx="840" cy="1255" rx="31" ry="17"/><ellipse cx="924" cy="1192" rx="31" ry="17"/><ellipse cx="1007" cy="1226" rx="31" ry="17"/><ellipse cx="1085" cy="1262" rx="31" ry="17"/><ellipse cx="965" cy="1284" rx="31" ry="17"/><ellipse cx="1170" cy="1197" rx="31" ry="17"/><ellipse cx="1282" cy="1245" rx="31" ry="17"/><ellipse cx="1197" cy="1308" rx="31" ry="17"/>
</g>
<ellipse cx="745" cy="582" rx="31" ry="17" fill="url(#rd)" stroke="#000" stroke-width="1" vector-effect="non-scaling-stroke"/>
<ellipse cx="750" cy="1218" rx="31" ry="17" fill="url(#rd)" stroke="#000" stroke-width="1" vector-effect="non-scaling-stroke"/>
<rect x="738" y="288" width="15" height="294" fill="#8e8e8e"/>
<polygon points="716,290 745,256 774,290" fill="#8e8e8e"/>
<rect x="741" y="923" width="15" height="295" fill="#8e8e8e"/>
<polygon points="720,925 748,893 777,925" fill="#8e8e8e"/>
<line x1="750" y1="578" x2="888" y2="440" stroke="#5ccc3a" stroke-width="2" vector-effect="non-scaling-stroke"/>
<polygon points="905,425 868,436 890,458" fill="#5ccc3a"/>
<rect x="743" y="1068" width="11" height="148" fill="#5ccc3a"/>
<polygon points="725,1070 748,1043 771,1070" fill="#5ccc3a"/>
<path d="M905,420 C880,380 810,375 775,395" fill="none" stroke="#e8200e" stroke-width="1.6" stroke-dasharray="2 2" vector-effect="non-scaling-stroke"/>
<polygon points="752,400 790,380 792,408" fill="#e8200e"/>
<polygon points="708,718 796,718 796,770 883,770 752,855 625,770 708,770" fill="#e8200e" stroke="#000" stroke-width="1.8" stroke-dasharray="2.5 2" vector-effect="non-scaling-stroke"/>
</g>
<text x="843" y="349" font-size="19" font-weight="bold" text-anchor="middle" textLength="106" lengthAdjust="spacingAndGlyphs">up direction</text>
<text x="843" y="377" font-size="19" font-weight="bold" text-anchor="middle" textLength="64" lengthAdjust="spacingAndGlyphs">(z-axis)</text>
<text x="813" y="421" font-size="15" font-style="italic">n<tspan font-size="11" dy="4">pred</tspan></text>
<text x="790" y="628" font-size="15" font-style="italic">n<tspan font-size="11" dy="4">pred</tspan></text>
<text x="780.5" y="750" font-size="15" font-weight="bold" text-anchor="middle" textLength="162" lengthAdjust="spacingAndGlyphs">Z-direction Constraint</text>

<!-- ================= Confidence panel ================= -->
<g transform="matrix(0.4143,0,0,0.3329,918.6,271.4)">
<g stroke="#999" stroke-width="1.4" stroke-dasharray="1.5 3" fill="none">
<line x1="408" y1="435" x2="1090" y2="435" vector-effect="non-scaling-stroke"/>
<line x1="408" y1="966" x2="1090" y2="966" vector-effect="non-scaling-stroke"/>
<line x1="183" y1="1242" x2="290" y2="1242" vector-effect="non-scaling-stroke"/>
</g>
<g fill="none" stroke="#000" stroke-width="2">
<path d="M585,335 V160 H1276" vector-effect="non-scaling-stroke"/>
<path d="M710,285 V233 H1276" vector-effect="non-scaling-stroke"/>
<path d="M778,368 V308 H1276" vector-effect="non-scaling-stroke"/>
<path d="M888,400 V393 H1278" vector-effect="non-scaling-stroke"/>
<path d="M980,445 V487 H1273" vector-effect="non-scaling-stroke"/>
<path d="M765,567 H1276" vector-effect="non-scaling-stroke"/>
<path d="M585,865 V692 H1276" vector-effect="non-scaling-stroke"/>
<path d="M710,815 V765 H1276" vector-effect="non-scaling-stroke"/>
<path d="M778,895 V843 H1276" vector-effect="non-scaling-stroke"/>
<path d="M888,928 H1276" vector-effect="non-scaling-stroke"/>
<path d="M980,975 V1020 H1273" vector-effect="non-scaling-stroke"/>
<path d="M765,1098 H1276" vector-effect="non-scaling-stroke"/>
</g>
<g fill="#000">
<polygon points="1272,147 1290,160 1272,173"/><polygon points="1272,220 1290,233 1272,246"/><polygon points="1272,295 1290,308 1272,321"/><polygon points="1274,380 1292,393 1274,406"/><polygon points="1268,474 1286,487 1268,500"/><polygon points="1272,554 1290,567 1272,580"/>
<polygon points="1272,679 1290,692 1272,705"/><polygon points="1272,752 1290,765 1272,778"/><polygon points="1272,830 1290,843 1272,856"/><polygon points="1272,915 1290,928 1272,941"/><polygon points="1268,1007 1286,1020 1268,1033"/><polygon points="1272,1085 1290,1098 1272,1111"/>
</g>
<g stroke="#000" stroke-width="1.2">
<rect x="1300" y="116" width="66" height="82.7" fill="#f86b4f" vector-effect="non-scaling-stroke"/>
<rect x="1300" y="198.7" width="66" height="82.7" fill="#fc9d8e" vector-effect="non-scaling-stroke"/>
<rect x="1300" y="281.3" width="66" height="82.7" fill="#ee2a13" vector-effect="non-scaling-stroke"/>
<rect x="1300" y="364" width="66" height="82.7" fill="#e9301a" vector-effect="non-scaling-stroke"/>
<rect x="1300" y="446.7" width="66" height="82.7" fill="#b31c0e" vector-effect="non-scaling-stroke"/>
<rect x="1300" y="529.3" width="66" height="82.7" fill="#fc9d8e" vector-effect="non-scaling-stroke"/>
<rect x="1300" y="648" width="66" height="82.8" fill="#f95a3e" vector-effect="non-scaling-stroke"/>
<rect x="1300" y="730.8" width="66" height="82.8" fill="#ee2a13" vector-effect="non-scaling-stroke"/>
<rect x="1300" y="813.6" width="66" height="82.8" fill="#fc9d8e" vector-effect="non-scaling-stroke"/>
<rect x="1300" y="896.4" width="66" height="82.8" fill="#ee2a13" vector-effect="non-scaling-stroke"/>
<rect x="1300" y="979.2" width="66" height="82.8" fill="#b31c0e" vector-effect="non-scaling-stroke"/>
<rect x="1300" y="1062" width="66" height="83" fill="#fc9d8e" vector-effect="non-scaling-stroke"/>
</g>
<g fill="none" stroke="#000" stroke-width="1" stroke-dasharray="1.5 1.5">
<path d="M585,350 V433 M709,300 L703,433 M780,390 V433 M751,568 L750,433" vector-effect="non-scaling-stroke"/>
<path d="M585,880 L593,965 M710,832 L703,965 M781,912 L797,965 M876,935 L860,965 M750,1098 L735,965" vector-effect="non-scaling-stroke"/>
</g>
<g fill="none" stroke="#000" stroke-width="1.1">
<path d="M593,433 L586,358 M702,433 L709,308 M797,433 L785,392 M860,433 L872,414 M955,433 L968,433 M738,433 L749,560" vector-effect="non-scaling-stroke"/>
</g>
<g fill="#000">
<polygon points="585,345 579,366 592,365"/><polygon points="709,296 702,318 716,318"/><polygon points="783,383 779,402 792,397"/><polygon points="876,407 862,414 871,422"/><polygon points="975,433 962,426 962,440"/><polygon points="749,566 742,546 756,546"/>
</g>
<g stroke="#5ccc3a" stroke-width="1.3" fill="none">
<path d="M483,962 V925 M513,962 V925 M543,962 V925 M593,962 V925 M640,962 V925 M670,962 V925 M700,962 V925 M735,962 V925 M797,962 V925 M831,962 V925 M860,962 V925 M908,962 V925 M955,962 V925 M980,962 V925 M1017,962 V925 M585,870 V842 M710,822 V792 M781,905 V875 M876,928 V892 M753,1090 V1065 M753,1108 V1135" vector-effect="non-scaling-stroke"/>
</g>
<g fill="#5ccc3a">
<polygon points="477,930 483,915 489,930"/><polygon points="507,930 513,915 519,930"/><polygon points="537,930 543,915 549,930"/><polygon points="587,930 593,915 599,930"/><polygon points="634,930 640,915 646,930"/><polygon points="664,930 670,915 676,930"/><polygon points="694,930 700,915 706,930"/><polygon points="729,930 735,915 741,930"/><polygon points="791,930 797,915 803,930"/><polygon points="825,930 831,915 837,930"/><polygon points="854,930 860,915 866,930"/><polygon points="902,930 908,915 914,930"/><polygon points="949,930 955,915 961,930"/><polygon points="974,930 980,915 986,930"/><polygon points="1011,930 1017,915 1023,930"/>
<polygon points="579,845 585,830 591,845"/><polygon points="704,795 710,780 716,795"/><polygon points="775,878 781,863 787,878"/><polygon points="870,895 876,880 882,895"/><polygon points="747,1068 753,1053 759,1068"/><polygon points="747,1132 753,1147 759,1132"/>
</g>
<g stroke="#1ea0f0" stroke-width="1.3" fill="none">
<path d="M585,880 L571,848 M710,832 L716,797 M781,912 L805,883 M876,935 L883,892 M750,1098 L774,1130" vector-effect="non-scaling-stroke"/>
<path d="M1030,1322 H1085" stroke-width="2.2" vector-effect="non-scaling-stroke"/>
</g>
<g fill="#1ea0f0">
<polygon points="566,836 565,856 578,851"/><polygon points="718,785 709,800 722,802"/><polygon points="812,875 796,882 806,892"/><polygon points="886,880 877,895 889,897"/><polygon points="780,1138 765,1128 775,1121"/><polygon points="1080,1310 1097,1322 1080,1334"/>
</g>
<g fill="none" stroke="#e0308a" stroke-width="1" stroke-dasharray="1.5 1.5">
<ellipse cx="576" cy="838" rx="10" ry="10" vector-effect="non-scaling-stroke"/><ellipse cx="715" cy="788" rx="10" ry="10" vector-effect="non-scaling-stroke"/><ellipse cx="797" cy="868" rx="14" ry="12" vector-effect="non-scaling-stroke"/><ellipse cx="881" cy="886" rx="7" ry="8" vector-effect="non-scaling-stroke"/><ellipse cx="767" cy="1140" rx="14" ry="12" vector-effect="non-scaling-stroke"/>
</g>
<g fill="url(#bl)">
<ellipse cx="481" cy="453" rx="8.7" ry="10.8"/>
<ellipse cx="513" cy="433" rx="8.7" ry="10.8"/><ellipse cx="543" cy="433" rx="8.7" ry="10.8"/><ellipse cx="593" cy="433" rx="8.7" ry="10.8"/><ellipse cx="640" cy="433" rx="8.7" ry="10.8"/><ellipse cx="670" cy="433" rx="8.7" ry="10.8"/><ellipse cx="702" cy="433" rx="8.7" ry="10.8"/><ellipse cx="735" cy="433" rx="8.7" ry="10.8"/><ellipse cx="797" cy="433" rx="8.7" ry="10.8"/><ellipse cx="831" cy="433" rx="8.7" ry="10.8"/><ellipse cx="860" cy="433" rx="8.7" ry="10.8"/><ellipse cx="908" cy="433" rx="8.7" ry="10.8"/><ellipse cx="955" cy="433" rx="8.7" ry="10.8"/><ellipse cx="1017" cy="433" rx="8.7" ry="10.8"/>
<ellipse cx="483" cy="965" rx="8.7" ry="10.8"/><ellipse cx="513" cy="965" rx="8.7" ry="10.8"/><ellipse cx="543" cy="965" rx="8.7" ry="10.8"/><ellipse cx="593" cy="965" rx="8.7" ry="10.8"/><ellipse cx="640" cy="965" rx="8.7" ry="10.8"/><ellipse cx="670" cy="965" rx="8.7" ry="10.8"/><ellipse cx="702" cy="965" rx="8.7" ry="10.8"/><ellipse cx="735" cy="965" rx="8.7" ry="10.8"/><ellipse cx="797" cy="965" rx="8.7" ry="10.8"/><ellipse cx="831" cy="965" rx="8.7" ry="10.8"/><ellipse cx="860" cy="965" rx="8.7" ry="10.8"/><ellipse cx="908" cy="965" rx="8.7" ry="10.8"/><ellipse cx="955" cy="965" rx="8.7" ry="10.8"/><ellipse cx="1017" cy="965" rx="8.7" ry="10.8"/>
<ellipse cx="748" cy="1240" rx="7" ry="9"/>
</g>
<ellipse cx="585" cy="348" rx="15" ry="18" fill="#f25a44"/>
<ellipse cx="710" cy="300" rx="15" ry="18" fill="#f9a39c"/>
<ellipse cx="781" cy="380" rx="15" ry="18" fill="#e8200e"/>
<ellipse cx="876" cy="408" rx="15" ry="18" fill="#e8200e"/>
<ellipse cx="980" cy="430" rx="15" ry="18" fill="#b81a0c"/>
<ellipse cx="750" cy="567" rx="15" ry="18" fill="#f9a39c"/>
<ellipse cx="585" cy="880" rx="15" ry="18" fill="#f9a39c"/>
<ellipse cx="710" cy="832" rx="15" ry="18" fill="#e8200e"/>
<ellipse cx="781" cy="912" rx="15" ry="18" fill="#f9a39c"/>
<ellipse cx="876" cy="935" rx="15" ry="18" fill="#e8200e"/>
<ellipse cx="980" cy="962" rx="15" ry="18" fill="#b81a0c"/>
<ellipse cx="750" cy="1098" rx="15" ry="18" fill="#f9a39c"/>
<ellipse cx="752" cy="1325" rx="11" ry="13" fill="#e8442e"/>
<rect x="148" y="1194" width="1262" height="180" fill="none" stroke="#000" stroke-width="1.4" stroke-dasharray="3 2.5" vector-effect="non-scaling-stroke"/>
<path d="M180,1322 H232" stroke="#000" stroke-width="1.1" vector-effect="non-scaling-stroke"/>
<polygon points="230,1314 246,1322 230,1330" fill="#000"/>
<path d="M1025,1242 H1080" stroke="#5ccc3a" stroke-width="2.2" vector-effect="non-scaling-stroke"/>
<polygon points="1076,1230 1093,1242 1076,1254" fill="#5ccc3a"/>
</g>
<g font-size="15" font-weight="bold" text-anchor="middle">
<text x="1010.6" y="404" textLength="56" lengthAdjust="spacingAndGlyphs">surface-</text>
<text x="1010.6" y="421.5" textLength="110" lengthAdjust="spacingAndGlyphs">inclusion-based</text>
<text x="1010.6" y="439" textLength="76" lengthAdjust="spacingAndGlyphs">confidence</text>
<text x="1016.4" y="575" textLength="58" lengthAdjust="spacingAndGlyphs">normal-</text>
<text x="1016.4" y="592.5" textLength="129" lengthAdjust="spacingAndGlyphs">discrepancy-based</text>
<text x="1016.4" y="610" textLength="76" lengthAdjust="spacingAndGlyphs">confidence</text>
</g>
<g font-size="13" text-anchor="middle">
<text x="1469.6" y="328.5">0.4</text><text x="1469.6" y="356">0.2</text><text x="1469.6" y="383.5">0.7</text><text x="1469.6" y="411">0.6</text><text x="1469.6" y="438.5">0.9</text><text x="1469.6" y="466">0.2</text>
<text x="1469.6" y="505.5">0.5</text><text x="1469.6" y="533">0.7</text><text x="1469.6" y="560.5">0.3</text><text x="1469.6" y="588">0.7</text><text x="1469.6" y="615.5">0.9</text><text x="1469.6" y="643.5">0.2</text>
</g>
<g font-size="12">
<text x="1050.4" y="689" textLength="93" lengthAdjust="spacingAndGlyphs">underlying surface</text>
<text x="1033" y="716" textLength="107" lengthAdjust="spacingAndGlyphs">approximate distance</text>
<text x="1241" y="689" textLength="55" lengthAdjust="spacingAndGlyphs">clean point</text>
<text x="1245" y="717" textLength="57" lengthAdjust="spacingAndGlyphs">query point</text>
<text x="1383.4" y="689" textLength="93" lengthAdjust="spacingAndGlyphs">clean point normal</text>
<text x="1384.7" y="716" textLength="93" lengthAdjust="spacingAndGlyphs">noise point normal</text>
</g>
<text x="1260.5" y="753" font-size="15" font-weight="bold" text-anchor="middle" textLength="252" lengthAdjust="spacingAndGlyphs">Confidence-based Sample Selection</text>
</svg>
</body></html>
